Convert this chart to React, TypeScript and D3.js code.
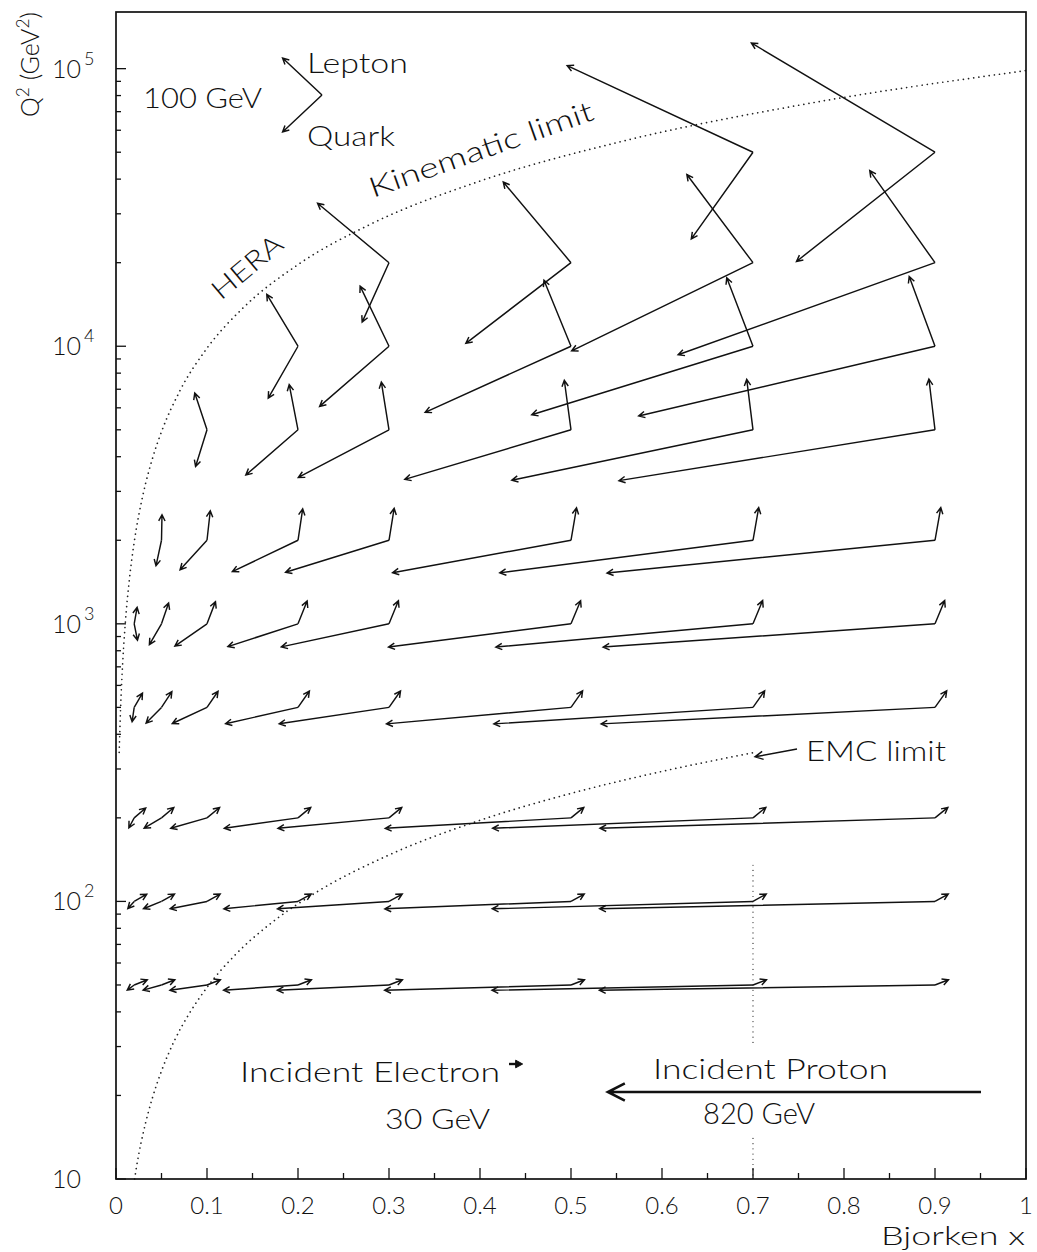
import React from 'react';
import * as d3 from 'd3';

const WIDTH = 1037;
const HEIGHT = 1252;

// Kinematic grid: Bjorken x columns and Q² rows (GeV²)
const xGrid = [0.02, 0.05, 0.1, 0.2, 0.3, 0.5, 0.7, 0.9];
const q2Rows = [50, 100, 200, 500, 1000, 2000, 5000, 10000, 20000, 50000];

// Scattered lepton momentum (GeV): pz > 0 along the electron beam, pt upward.
// null marks grid points beyond the HERA kinematic limit.
const leptonPz = [
  [28.8, 29.3, 29.4, 29.5, 29.5, 29.6, 29.6, 29.6],
  [27.6, 28.6, 28.9, 29.0, 29.1, 29.1, 29.1, 29.1],
  [25.3, 27.1, 27.7, 28.0, 28.1, 28.2, 28.3, 28.3],
  [18.2, 22.8, 24.3, 25.1, 25.3, 25.5, 25.6, 25.7],
  [6.4, 15.6, 18.6, 20.1, 20.7, 21.1, 21.2, 21.3],
  [null, 1.1, 7.2, 10.3, 11.3, 12.1, 12.5, 12.7],
  [null, null, -26.9, -19.3, -16.8, -14.7, -13.8, -13.4],
  [null, null, null, -68.6, -63.5, -59.4, -57.7, -56.7],
  [null, null, null, null, -157.0, -148.9, -145.4, -143.4],
  [null, null, null, null, null, null, -408.4, -403.6],
];
const leptonPt = [
  [7.0, 7.0, 7.1, 7.1, 7.1, 7.1, 7.1, 7.1],
  [9.7, 9.9, 9.9, 10.0, 10.0, 10.0, 10.0, 10.0],
  [13.4, 13.9, 14.0, 14.1, 14.1, 14.1, 14.1, 14.1],
  [19.3, 21.2, 21.8, 22.1, 22.2, 22.3, 22.3, 22.3],
  [22.2, 28.2, 30.0, 30.8, 31.1, 31.3, 31.4, 31.4],
  [null, 34.5, 39.9, 42.4, 43.2, 43.8, 44.1, 44.2],
  [null, null, 49.6, 61.1, 64.4, 67.0, 68.1, 68.7],
  [null, null, null, 70.1, 81.3, 89.3, 92.5, 94.2],
  [null, null, null, null, 80.3, 109.0, 119.1, 124.4],
  [null, null, null, null, null, null, 117.1, 147.6],
];
// Struck quark longitudinal momentum (GeV); its pt balances the lepton's.
const quarkPz = [
  [-15.2, -40.3, -81.4, -163.5, -245.5, -409.6, -573.6, -737.6],
  [-14.0, -39.6, -80.9, -163.0, -245.1, -409.1, -573.1, -737.1],
  [-11.7, -38.1, -79.7, -162.0, -244.1, -408.2, -572.3, -736.3],
  [-4.6, -33.8, -76.3, -159.1, -241.3, -405.5, -569.6, -733.7],
  [7.2, -26.6, -70.6, -154.1, -236.7, -401.1, -565.2, -729.3],
  [null, -12.1, -59.2, -144.3, -227.3, -392.1, -556.5, -720.7],
  [null, null, -25.1, -114.7, -199.3, -365.3, -530.2, -694.6],
  [null, null, null, -65.4, -152.5, -320.6, -486.3, -651.3],
  [null, null, null, null, -59.0, -231.1, -398.6, -564.6],
  [null, null, null, null, null, null, -135.6, -304.4],
];

// 100 GeV scale vector of the key (components in GeV)
const keyPz = -86.6;
const keyPt = 50;

// Beam energies (GeV)
const electronBeam = 30;
const protonBeam = 820;

// HERA kinematic limit
const heraLimitX = [0.0035, 0.005, 0.0075, 0.01, 0.015, 0.02, 0.03, 0.04, 0.05, 0.07, 0.1, 0.14, 0.2, 0.28, 0.4, 0.55, 0.75, 1.0];
const heraLimitQ2 = [344, 492, 738, 984, 1476, 1968, 2952, 3936, 4920, 6888, 9840, 13776, 19680, 27552, 39360, 54120, 73800, 98400];

// EMC limit
const emcLimitX = [0.0204, 0.025, 0.03, 0.04, 0.05, 0.065, 0.08, 0.1, 0.13, 0.17, 0.22, 0.3, 0.4, 0.5, 0.6, 0.7];
const emcLimitQ2 = [10, 12.3, 14.7, 19.6, 24.5, 31.9, 39.2, 49, 63.7, 83.3, 107.8, 147, 196, 245, 294, 343];
const emcEdgeX = 0.7;
const emcEdgeSegments = [[135, 30], [14, 10]];

// Axis ticks
const xTickValues = [0, 0.1, 0.2, 0.3, 0.4, 0.5, 0.6, 0.7, 0.8, 0.9, 1];
const xTickLabels = ['0', '0.1', '0.2', '0.3', '0.4', '0.5', '0.6', '0.7', '0.8', '0.9', '1'];
const yTickValues = [10, 100, 1000, 10000, 100000];
const yTickExponents = ['', '2', '3', '4', '5'];

const FONT = "Lato, 'Liberation Sans', Arial, sans-serif";
const INK = '#111';

function arrowPath(x1: number, y1: number, x2: number, y2: number, len = 7, halfDeg = 27) {
  const a = Math.atan2(y2 - y1, x2 - x1);
  const h = (halfDeg * Math.PI) / 180;
  const p = d3.path();
  p.moveTo(x1, y1);
  p.lineTo(x2, y2);
  p.moveTo(x2 - len * Math.cos(a - h), y2 - len * Math.sin(a - h));
  p.lineTo(x2, y2);
  p.lineTo(x2 - len * Math.cos(a + h), y2 - len * Math.sin(a + h));
  return p.toString();
}

// Wide-set label: glyphs are stretched to span the given width
function Label(props: { x?: number; y?: number; transform?: string; size: number; width: number; children: React.ReactNode }) {
  const { x, y, transform, size, width, children } = props;
  return (
    <text x={x} y={y} transform={transform} fontSize={size} textLength={width} lengthAdjust="spacingAndGlyphs">
      {children}
    </text>
  );
}

export default function App() {
  const left = 116;
  const right = 1026;
  const top = 12;
  const bottom = 1179;

  const x = d3.scaleLinear().domain([0, 1]).range([left, right]);
  const y = d3.scaleLog().domain([10, 1.6e5]).range([bottom, top]);
  // momentum (GeV) -> arrow length in pixels, along and across the beam line
  const pzPx = d3.scaleLinear().domain([0, 100]).range([0, 45.5]);
  const ptPx = d3.scaleLinear().domain([0, 100]).range([0, 74]);

  const vertices: { vx: number; vy: number; lz: number; lt: number; qz: number }[] = [];
  q2Rows.forEach((q2, i) => {
    xGrid.forEach((xv, j) => {
      const lz = leptonPz[i][j];
      if (lz === null) return;
      vertices.push({ vx: x(xv), vy: y(q2), lz, lt: leptonPt[i][j] as number, qz: quarkPz[i][j] as number });
    });
  });

  const curve = d3
    .line<[number, number]>()
    .x((d) => x(d[0]))
    .y((d) => y(d[1]))
    .curve(d3.curveMonotoneX);
  const heraPath = curve(heraLimitX.map((v, i) => [v, heraLimitQ2[i]]));
  const emcPath = curve(emcLimitX.map((v, i) => [v, emcLimitQ2[i]]));

  const yMinor = y.ticks().filter((t) => !yTickValues.includes(t));
  const xMinor = d3.range(0.05, 1, 0.1);

  const dotted = { fill: 'none', stroke: '#222', strokeWidth: 1.7, strokeDasharray: '0.01 5.2', strokeLinecap: 'round' as const };

  // key
  const keyX = 322;
  const keyY = 95;

  // incoming beams
  const eStart = 509;
  const eY = 1064;
  const pStart = 981;
  const pY = 1092;
  const eEnd = eStart + pzPx(electronBeam);
  const pEnd = pStart - pzPx(protonBeam);

  return (
    <svg
      width={WIDTH}
      height={HEIGHT}
      viewBox={`0 0 ${WIDTH} ${HEIGHT}`}
      style={{ position: 'absolute', left: 0, top: 0, background: '#fff' }}
      fontFamily={FONT}
      fontWeight={300}
      fill={INK}
    >
      <rect x={0} y={0} width={WIDTH} height={HEIGHT} fill="#fff" />

      {/* kinematic limits */}
      <path d={heraPath ?? ''} {...dotted} />
      <path d={emcPath ?? ''} {...dotted} />
      {emcEdgeSegments.map((s, i) => (
        <line key={i} x1={x(emcEdgeX)} x2={x(emcEdgeX)} y1={y(s[0])} y2={y(s[1])} {...dotted} strokeWidth={1.2} />
      ))}

      {/* lepton and quark momentum vectors */}
      <g fill="none" stroke={INK} strokeWidth={1.45} strokeLinejoin="miter">
        {vertices.map((v, k) => (
          <g key={k}>
            <path d={arrowPath(v.vx, v.vy, v.vx + pzPx(v.lz), v.vy - ptPx(v.lt))} />
            <path d={arrowPath(v.vx, v.vy, v.vx + pzPx(v.qz), v.vy + ptPx(v.lt))} />
          </g>
        ))}
        {/* key vectors */}
        <path d={arrowPath(keyX, keyY, keyX + pzPx(keyPz), keyY - ptPx(keyPt))} />
        <path d={arrowPath(keyX, keyY, keyX + pzPx(keyPz), keyY + ptPx(keyPt))} />
        {/* EMC label pointer */}
        <path d={arrowPath(797, 749, x(emcEdgeX) + 2, y(emcLimitQ2[emcLimitQ2.length - 1]) + 4, 9)} />
      </g>

      {/* beams */}
      <line x1={eStart} x2={eEnd - 5} y1={eY} y2={eY} stroke={INK} strokeWidth={2.4} />
      <path d={`M${eEnd},${eY}L${eEnd - 7},${eY - 3.8}L${eEnd - 7},${eY + 3.8}Z`} fill={INK} stroke={INK} strokeWidth={1} />
      <path d={arrowPath(pStart, pY, pEnd, pY, 19, 27)} fill="none" stroke={INK} strokeWidth={2.6} />

      {/* frame */}
      <rect x={left} y={top} width={right - left} height={bottom - top} fill="none" stroke={INK} strokeWidth={1.7} />

      {/* axis ticks */}
      <g stroke={INK} strokeWidth={1.3}>
        {xTickValues.map((t) => (
          <line key={t} x1={x(t)} x2={x(t)} y1={bottom} y2={bottom - 11} />
        ))}
        {xMinor.map((t) => (
          <line key={t} x1={x(t)} x2={x(t)} y1={bottom} y2={bottom - 6} />
        ))}
        {yTickValues.map((t) => (
          <line key={t} x1={left} x2={left + 10} y1={y(t)} y2={y(t)} />
        ))}
        {yMinor.map((t) => (
          <line key={t} x1={left} x2={left + 5} y1={y(t)} y2={y(t)} />
        ))}
      </g>

      {/* tick labels */}
      <g fontSize={24} textAnchor="middle">
        {xTickValues.map((t, i) => (
          <text key={t} x={x(t)} y={1214}>
            {xTickLabels[i]}
          </text>
        ))}
      </g>
      <g fontSize={25}>
        {yTickValues.map((t, i) => (
          <g key={t}>
            <text x={81} y={y(t) + 9} textAnchor="end">
              10
            </text>
            {yTickExponents[i] && (
              <text x={84} y={y(t) - 4} fontSize={18}>
                {yTickExponents[i]}
              </text>
            )}
          </g>
        ))}
      </g>

      {/* axis titles */}
      <Label x={881} y={1245} size={26} width={144}>
        Bjorken x
      </Label>
      <text transform="translate(39,117) rotate(-90)" fontSize={26} textLength={105} lengthAdjust="spacingAndGlyphs">
        Q<tspan dy={-10} fontSize={18}>2</tspan>
        <tspan dy={10}> (GeV</tspan>
        <tspan dy={-10} fontSize={18}>2</tspan>
        <tspan dy={10}>)</tspan>
      </text>

      {/* annotations */}
      <Label x={143} y={108} size={28} width={119}>
        100 GeV
      </Label>
      <Label x={307} y={73} size={28} width={101}>
        Lepton
      </Label>
      <Label x={307} y={146} size={28} width={88}>
        Quark
      </Label>
      <Label transform="translate(373,198) rotate(-19.5)" size={28} width={236}>
        Kinematic limit
      </Label>
      <Label transform="translate(221,301) rotate(-40)" size={27} width={84}>
        HERA
      </Label>
      <Label x={806} y={761} size={27} width={140}>
        EMC limit
      </Label>
      <Label x={240} y={1082} size={28} width={260}>
        Incident Electron
      </Label>
      <Label x={385} y={1129} size={28} width={105}>
        30 GeV
      </Label>
      <Label x={653} y={1079} size={28} width={235}>
        Incident Proton
      </Label>
      <Label x={703} y={1124} size={29} width={112}>
        820 GeV
      </Label>
    </svg>
  );
}
